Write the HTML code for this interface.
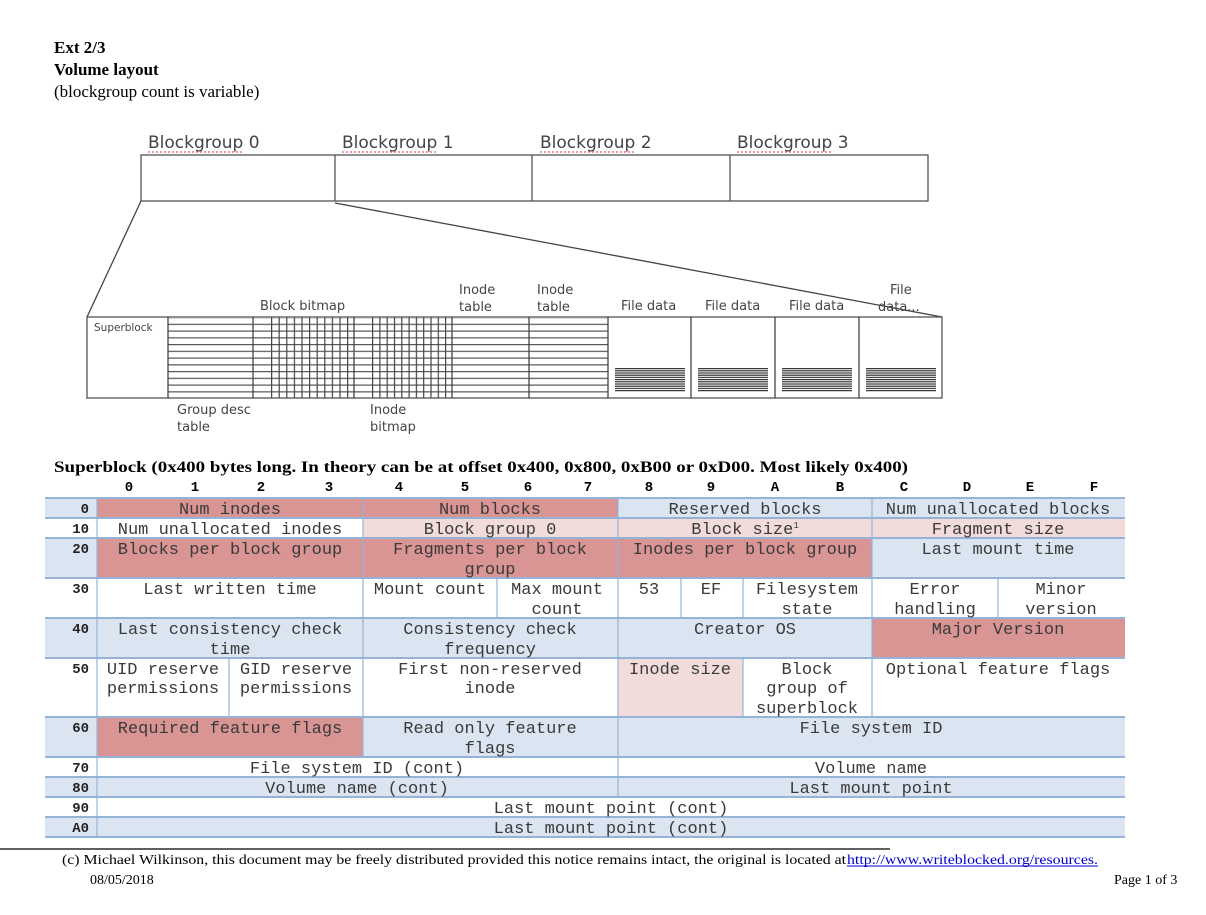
<!DOCTYPE html>
<html><head><meta charset="utf-8"><style>
html,body{margin:0;padding:0;background:#fff;}
svg{display:block}
.t{font-family:"Liberation Mono",monospace;font-size:17px;fill:#3a3a3a}
.g{font-family:"DejaVu Sans","Liberation Sans",sans-serif;fill:#444}
.s{font-family:"Liberation Serif",serif}
</style></head><body>
<svg width="1206" height="915" viewBox="0 0 1206 915" xmlns="http://www.w3.org/2000/svg">
<defs>
<pattern id="hl" patternUnits="userSpaceOnUse" x="0" y="317" width="10" height="6.75"><rect x="0" y="0" width="10" height="1.2" fill="#555"/></pattern>
<pattern id="vl" patternUnits="userSpaceOnUse" x="271" y="0" width="7.6" height="10"><rect x="0" y="0" width="1.2" height="10" fill="#444"/></pattern>
<pattern id="vl2" patternUnits="userSpaceOnUse" x="372" y="0" width="7.3" height="10"><rect x="0" y="0" width="1.2" height="10" fill="#444"/></pattern>
<pattern id="dl" patternUnits="userSpaceOnUse" x="0" y="368" width="10" height="2.2"><rect x="0" y="0" width="10" height="1.2" fill="#333"/></pattern>
</defs>

<text x="54" y="53" class="s" font-size="17" font-weight="bold">Ext 2/3</text>
<text x="54" y="75" class="s" font-size="17" font-weight="bold">Volume layout</text>
<text x="54" y="97" class="s" font-size="17">(blockgroup count is variable)</text>

<g class="g" font-size="17">
<text x="148" y="148">Blockgroup 0</text>
<text x="342" y="148">Blockgroup 1</text>
<text x="540" y="148">Blockgroup 2</text>
<text x="737" y="148">Blockgroup 3</text>
</g>
<g stroke="#e33" stroke-width="1" fill="none" stroke-dasharray="2 2">
<line x1="148" y1="152" x2="242" y2="152"/><line x1="342" y1="152" x2="436" y2="152"/>
<line x1="540" y1="152" x2="634" y2="152"/><line x1="737" y1="152" x2="831" y2="152"/>
</g>
<rect x="141" y="155" width="787" height="46" fill="none" stroke="#555" stroke-width="1.3"/>
<g stroke="#555" stroke-width="1.3"><line x1="335" y1="155" x2="335" y2="201"/><line x1="532" y1="155" x2="532" y2="201"/><line x1="730" y1="155" x2="730" y2="201"/></g>
<line x1="141" y1="201" x2="87" y2="317" stroke="#444" stroke-width="1.3"/>
<line x1="335" y1="203" x2="942" y2="317" stroke="#444" stroke-width="1.3"/>

<rect x="168" y="318" width="440" height="80" fill="url(#hl)"/>
<rect x="271" y="317" width="78" height="81" fill="url(#vl)"/>
<rect x="372" y="317" width="76" height="81" fill="url(#vl2)"/>
<rect x="87" y="317" width="855" height="81" fill="none" stroke="#555" stroke-width="1.3"/>
<g stroke="#444" stroke-width="1.3">
<line x1="168" y1="317" x2="168" y2="398"/><line x1="253" y1="317" x2="253" y2="398"/>
<line x1="354" y1="317" x2="354" y2="398"/><line x1="452" y1="317" x2="452" y2="398"/>
<line x1="529" y1="317" x2="529" y2="398"/><line x1="608" y1="317" x2="608" y2="398"/>
<line x1="691" y1="317" x2="691" y2="398"/><line x1="775" y1="317" x2="775" y2="398"/>
<line x1="859" y1="317" x2="859" y2="398"/>
</g>
<rect x="615" y="368" width="70" height="24" fill="url(#dl)"/>
<rect x="698" y="368" width="70" height="24" fill="url(#dl)"/>
<rect x="782" y="368" width="70" height="24" fill="url(#dl)"/>
<rect x="866" y="368" width="70" height="24" fill="url(#dl)"/>
<g class="g" font-size="13">
<text x="94" y="331" font-size="10.5">Superblock</text>
<text x="260" y="310">Block bitmap</text>
<text x="459" y="294">Inode</text><text x="459" y="311">table</text>
<text x="537" y="294">Inode</text><text x="537" y="311">table</text>
<text x="621" y="310">File data</text><text x="705" y="310">File data</text><text x="789" y="310">File data</text>
<text x="890" y="294">File</text><text x="878" y="311">data...</text>
<text x="177" y="414">Group desc</text><text x="177" y="431">table</text>
<text x="370" y="414">Inode</text><text x="370" y="431">bitmap</text>
</g>

<text x="54" y="472" class="s" font-size="16" font-weight="bold" textLength="854" lengthAdjust="spacingAndGlyphs">Superblock (0x400 bytes long. In theory can be at offset 0x400, 0x800, 0xB00 or 0xD00. Most likely 0x400)</text>
<g font-family="Liberation Mono,monospace" font-size="14" font-weight="bold" text-anchor="middle">
<text x="129" y="491">0</text><text x="195" y="491">1</text><text x="261" y="491">2</text><text x="329" y="491">3</text>
<text x="399" y="491">4</text><text x="465" y="491">5</text><text x="528" y="491">6</text><text x="588" y="491">7</text>
<text x="649" y="491">8</text><text x="711" y="491">9</text><text x="775" y="491">A</text><text x="840" y="491">B</text>
<text x="904" y="491">C</text><text x="967" y="491">D</text><text x="1030" y="491">E</text><text x="1094" y="491">F</text>
</g>

<g>
<rect x="45" y="498" width="1080" height="20" fill="#dbe5f1"/>
<rect x="97" y="498" width="521" height="20" fill="#d99594"/>
<rect x="363" y="518" width="762" height="20" fill="#f2dbdb"/>
<rect x="45" y="538" width="1080" height="40" fill="#dbe5f1"/>
<rect x="97" y="538" width="775" height="40" fill="#d99594"/>
<rect x="45" y="618" width="1080" height="40" fill="#dbe5f1"/>
<rect x="872" y="618" width="253" height="40" fill="#d99594"/>
<rect x="618" y="658" width="125" height="59" fill="#f2dbdb"/>
<rect x="45" y="717" width="1080" height="40" fill="#dbe5f1"/>
<rect x="97" y="717" width="266" height="40" fill="#d99594"/>
<rect x="45" y="777" width="1080" height="20" fill="#dbe5f1"/>
<rect x="45" y="817" width="1080" height="20" fill="#dbe5f1"/>
</g>
<g stroke="#95b3d7" stroke-width="2">
<line x1="45" y1="498" x2="1125" y2="498"/><line x1="45" y1="518" x2="1125" y2="518"/>
<line x1="45" y1="538" x2="1125" y2="538"/><line x1="45" y1="578" x2="1125" y2="578"/>
<line x1="45" y1="618" x2="1125" y2="618"/><line x1="45" y1="658" x2="1125" y2="658"/>
<line x1="45" y1="717" x2="1125" y2="717"/><line x1="45" y1="757" x2="1125" y2="757"/>
<line x1="45" y1="777" x2="1125" y2="777"/><line x1="45" y1="797" x2="1125" y2="797"/>
<line x1="45" y1="817" x2="1125" y2="817"/><line x1="45" y1="837" x2="1125" y2="837"/>
</g>
<g stroke="#95b3d7" stroke-width="1.2">
<line x1="97" y1="498" x2="97" y2="837"/>
<line x1="363" y1="498" x2="363" y2="757"/>
<line x1="618" y1="498" x2="618" y2="797"/>
<line x1="872" y1="498" x2="872" y2="717"/>
<line x1="497" y1="578" x2="497" y2="618"/>
<line x1="681" y1="578" x2="681" y2="618"/><line x1="743" y1="578" x2="743" y2="618"/>
<line x1="998" y1="578" x2="998" y2="618"/>
<line x1="229" y1="658" x2="229" y2="717"/><line x1="743" y1="658" x2="743" y2="717"/>
</g>
<g font-family="Liberation Mono,monospace" font-size="14" font-weight="bold" text-anchor="end" fill="#222">
<text x="89" y="513">0</text><text x="89" y="533">10</text><text x="89" y="553">20</text><text x="89" y="593">30</text>
<text x="89" y="633">40</text><text x="89" y="673">50</text><text x="89" y="732">60</text><text x="89" y="772">70</text>
<text x="89" y="792">80</text><text x="89" y="812">90</text><text x="89" y="832">A0</text>
</g>
<g class="t" text-anchor="middle">
<text x="230" y="514">Num inodes</text><text x="490" y="514">Num blocks</text>
<text x="745" y="514">Reserved blocks</text><text x="998" y="514">Num unallocated blocks</text>
<text x="230" y="534">Num unallocated inodes</text><text x="490" y="534">Block group 0</text>
<text x="745" y="534">Block size<tspan font-size="9" dy="-6">1</tspan></text><text x="998" y="534">Fragment size</text>
<text x="230" y="554">Blocks per block group</text><text x="490" y="554">Fragments per block</text><text x="490" y="574">group</text>
<text x="745" y="554">Inodes per block group</text><text x="998" y="554">Last mount time</text>
<text x="230" y="594">Last written time</text><text x="430" y="594">Mount count</text>
<text x="557" y="594">Max mount</text><text x="557" y="614">count</text>
<text x="649" y="594">53</text><text x="711" y="594">EF</text>
<text x="807" y="594">Filesystem</text><text x="807" y="614">state</text>
<text x="935" y="594">Error</text><text x="935" y="614">handling</text>
<text x="1061" y="594">Minor</text><text x="1061" y="614">version</text>
<text x="230" y="634">Last consistency check</text><text x="230" y="654">time</text>
<text x="490" y="634">Consistency check</text><text x="490" y="654">frequency</text>
<text x="745" y="634">Creator OS</text><text x="998" y="634">Major Version</text>
<text x="163" y="674">UID reserve</text><text x="163" y="693">permissions</text>
<text x="296" y="674">GID reserve</text><text x="296" y="693">permissions</text>
<text x="490" y="674">First non-reserved</text><text x="490" y="693">inode</text>
<text x="680" y="674">Inode size</text>
<text x="807" y="674">Block</text><text x="807" y="693">group of</text><text x="807" y="713">superblock</text>
<text x="998" y="674">Optional feature flags</text>
<text x="230" y="733">Required feature flags</text>
<text x="490" y="733">Read only feature</text><text x="490" y="753">flags</text>
<text x="871" y="733">File system ID</text>
<text x="357" y="773">File system ID (cont)</text><text x="871" y="773">Volume name</text>
<text x="357" y="793">Volume name (cont)</text><text x="871" y="793">Last mount point</text>
<text x="611" y="813">Last mount point (cont)</text>
<text x="611" y="833">Last mount point (cont)</text>
</g>

<line x1="0" y1="849" x2="890" y2="849" stroke="#000" stroke-width="1.2"/>
<g class="s" font-size="14">
<text x="62" y="864" textLength="784" lengthAdjust="spacingAndGlyphs">(c) Michael Wilkinson, this document may be freely distributed provided this notice remains intact, the original is located at</text>
<text x="847" y="864" fill="#00c" textLength="251" lengthAdjust="spacingAndGlyphs">http://www.writeblocked.org/resources.</text>
<text x="90" y="884">08/05/2018</text>
<text x="1114" y="884">Page 1 of 3</text>
</g>
<line x1="847" y1="866" x2="1098" y2="866" stroke="#00c" stroke-width="1"/>
</svg>
</body></html>
